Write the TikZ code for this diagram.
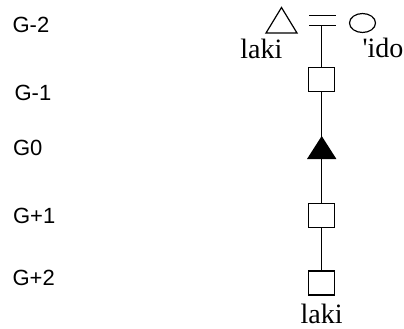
\documentclass[tikz,border=0pt]{standalone}
\usepackage{fontspec}
\newfontfamily\tms{Liberation Serif}
\newfontfamily\ars{Liberation Sans}
\usetikzlibrary{shapes.geometric}
\begin{document}
\begin{tikzpicture}[x=1pt,y=-1pt,line width=1.2pt,
  sq/.style={draw,rectangle,minimum width=26pt,minimum height=24pt,inner sep=0pt},
  fem/.style={draw,ellipse,minimum width=26pt,minimum height=19pt,inner sep=0pt},
  gen/.style={anchor=base west,inner sep=0pt,font=\ars\fontsize{22}{24}\selectfont},
  nm/.style={inner sep=0pt,font=\tms\fontsize{28}{30}\selectfont}]
\useasboundingbox (0,0) rectangle (404,329);
% generation labels
\node[gen] (g1) at (12,33) {G-2};
\node[gen] (g2) at (14,100) {G-1};
\node[gen] (g3) at (12.5,155) {G0};
\node[gen] (g4) at (12.5,223) {G+1};
\node[gen] (g5) at (12,285) {G+2};
% parents
\draw (266,33) -- (281.5,7.5) -- (297,33) -- cycle;
\coordinate (hus) at (281.5,20);
\node[fem] (wife) at (362.5,23) {};
\draw (309,15.3) -- (336,15.3);
\draw (309,25.3) -- (336,25.3);
\coordinate (mar) at (321.7,25.3);
\node[nm,anchor=base east] (t1) at (283,59) {laki};
\node[nm,anchor=base west] (t2) at (362,58) {\textquotesingle ido};
% line of descent
\node[sq] (f1) at (321.7,79.5) {};
\coordinate (ego) at (321.7,147.5);
\node[sq] (s1) at (321.7,215.5) {};
\node[sq] (s2) at (321.7,283) {};
\draw (mar) -- (f1);
\draw (f1) -- (ego);
\draw (ego) -- (s1);
\draw (s1) -- (s2);
\fill (307,159) -- (321.7,136) -- (336.4,159) -- cycle;
\node[nm,anchor=base] (t3) at (321.7,323) {laki};
\end{tikzpicture}
\end{document}
